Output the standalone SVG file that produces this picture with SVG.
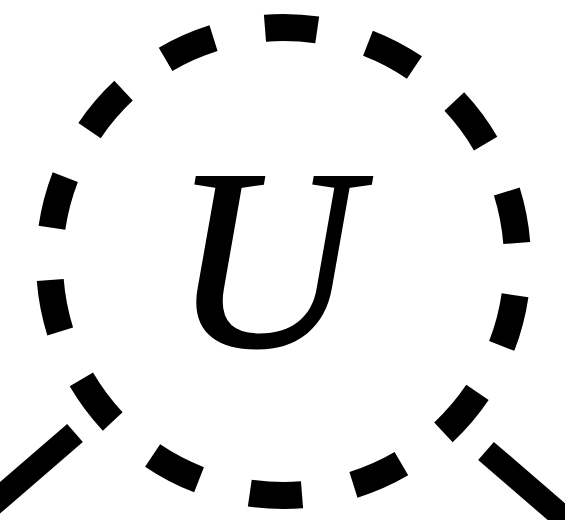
<svg xmlns="http://www.w3.org/2000/svg" width="565" height="520" viewBox="0 0 565 520">
  <style>
    .edge { stroke: #000; stroke-width: 24; stroke-linecap: butt; fill: none; }
    .node { stroke: #000; stroke-width: 27; fill: none; stroke-dasharray: 1 1; stroke-dashoffset: 1.354; }
    .label { font-family: "Liberation Serif", "Times New Roman", serif; font-style: italic; font-size: 258px; fill: #000; stroke: #000; stroke-width: 2; }
  </style>
  <rect width="565" height="520" fill="#fff"/>
  <g id="connectors">
    <line class="edge" x1="75" y1="433" x2="-20" y2="515"/>
    <line class="edge" x1="486" y1="451" x2="580" y2="532"/>
  </g>
  <g id="node-U">
    <circle class="node" cx="283.5" cy="261.5" r="234" pathLength="28"/>
    <text class="label" x="265" y="346" text-anchor="middle">U</text>
  </g>
</svg>
